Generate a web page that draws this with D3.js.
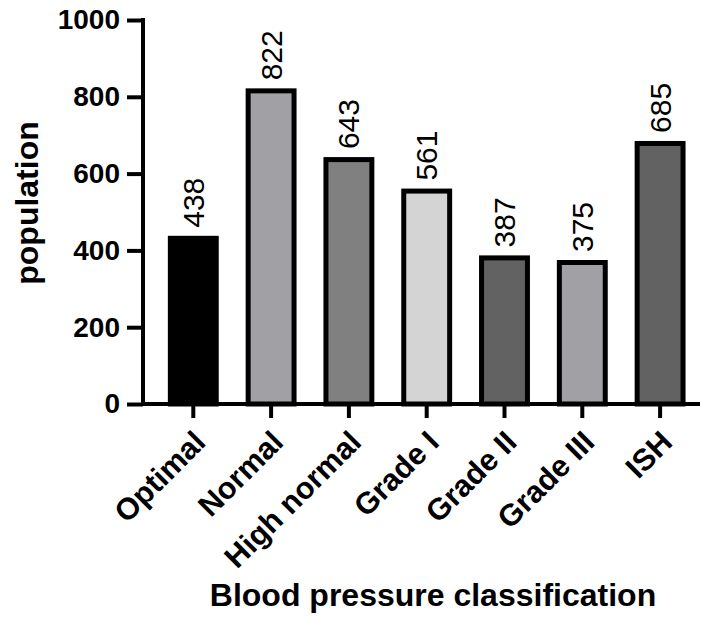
<!DOCTYPE html>
<html>
<head>
<meta charset="utf-8">
<script src="https://cdn.jsdelivr.net/npm/d3@7"></script>
<style>
  body { margin: 0; background: #fff; }
  text { font-family: "Liberation Sans", Arial, sans-serif; }
</style>
</head>
<body>
<div id="chart"></div>
<script>
const categories = ["Optimal", "Normal", "High normal", "Grade I", "Grade II", "Grade III", "ISH"];
const values = [438, 822, 643, 561, 387, 375, 685];
const fills = ["#000000", "#a1a1a5", "#808080", "#d4d4d4", "#626262", "#a1a1a5", "#626262"];
const yTicks = [0, 200, 400, 600, 800, 1000];

const width = 703, height = 618;

const svg = d3.select("#chart")
  .append("svg")
  .attr("width", width)
  .attr("height", height);

const x = d3.scaleBand()
  .domain(categories)
  .range([154.4, 699])
  .paddingInner(0.41)
  .paddingOuter(0.205);

const y = d3.scaleLinear().domain([0, 1000]).range([404, 20]);

// bars
const bw = 5;
svg.selectAll(".bar")
  .data(categories)
  .enter()
  .append("rect")
  .attr("class", "bar")
  .attr("x", (d) => x(d))
  .attr("width", x.bandwidth())
  .attr("y", (d, i) => y(values[i]) + bw / 2)
  .attr("height", (d, i) => y(0) - y(values[i]) - bw / 2)
  .attr("fill", (d, i) => fills[i])
  .attr("stroke", "#000")
  .attr("stroke-width", bw);

// value labels
svg.selectAll(".val")
  .data(categories)
  .enter()
  .append("text")
  .attr("class", "val")
  .attr("transform", (d, i) => `translate(${x(d) + x.bandwidth() / 2 + 10.5},${y(values[i]) - 8}) rotate(-90)`)
  .attr("font-size", 30)
  .attr("fill", "#000")
  .text((d, i) => values[i]);

// y axis
const yAxis = svg.append("g")
  .attr("transform", "translate(143,0)")
  .call(d3.axisLeft(y).tickValues(yTicks).tickSize(16).tickPadding(7).tickFormat(d3.format("d")));
yAxis.select(".domain").remove();
yAxis.append("line")
  .attr("x1", 0).attr("x2", 0)
  .attr("y1", y(1000) - 2).attr("y2", y(0) + 2)
  .attr("stroke", "#000").attr("stroke-width", 4);
yAxis.selectAll(".tick line").attr("stroke", "#000").attr("stroke-width", 4);
yAxis.selectAll(".tick text")
  .attr("font-size", 28)
  .attr("font-weight", "bold")
  .attr("fill", "#000")
  .attr("font-family", "Liberation Sans, Arial, sans-serif");

// x axis
const xAxis = svg.append("g")
  .attr("transform", `translate(0,${y(0)})`)
  .call(d3.axisBottom(x).tickSize(14).tickPadding(4));
xAxis.select(".domain").remove();
xAxis.append("line")
  .attr("x1", 141).attr("x2", 700)
  .attr("y1", 0).attr("y2", 0)
  .attr("stroke", "#000").attr("stroke-width", 4);
xAxis.selectAll(".tick line").attr("stroke", "#000").attr("stroke-width", 4);
xAxis.selectAll(".tick text")
  .attr("font-size", 30.5)
  .attr("font-weight", "bold")
  .attr("fill", "#000")
  .attr("font-family", "Liberation Sans, Arial, sans-serif")
  .attr("text-anchor", "end")
  .attr("dy", null)
  .attr("y", 0)
  .attr("transform", "translate(14,40) rotate(-45)");

// axis titles
svg.append("text")
  .attr("transform", "translate(38,203) rotate(-90)")
  .attr("text-anchor", "middle")
  .attr("font-size", 32)
  .attr("font-weight", "bold")
  .text("population");

svg.append("text")
  .attr("x", 433)
  .attr("y", 606)
  .attr("text-anchor", "middle")
  .attr("font-size", 32)
  .attr("font-weight", "bold")
  .text("Blood pressure classification");
</script>
</body>
</html>
